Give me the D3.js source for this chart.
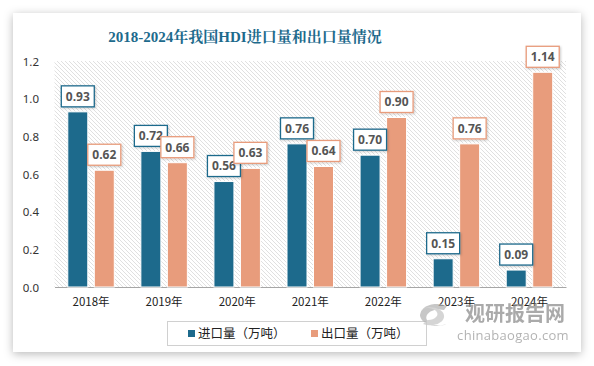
<!DOCTYPE html>
<html><head><meta charset="utf-8">
<script src="https://cdn.jsdelivr.net/npm/d3@7"></script>
<style>
html,body{margin:0;padding:0;background:#fff;}
svg{display:block;}
</style></head>
<body><svg id="chart" width="594" height="366"></svg>
<script>
const categories = ["2018年","2019年","2020年","2021年","2022年","2023年","2024年"];
const importVals = [0.93,0.72,0.56,0.76,0.70,0.15,0.09];
const exportVals = [0.62,0.66,0.63,0.64,0.90,0.76,1.14];
const seriesNames = ["进口量（万吨）","出口量（万吨）"];
const colors = ["#1d6a8c","#e89c7c"];
const yTicks = [0,0.2,0.4,0.6,0.8,1.0,1.2];
const title = "2018-2024年我国HDI进口量和出口量情况";

const svg = d3.select("#chart");
const defs = svg.append("defs");
const sh = defs.append("filter").attr("id","cardShadow").attr("x","-10%").attr("y","-10%").attr("width","120%").attr("height","125%");
sh.append("feDropShadow").attr("dx",0).attr("dy",2).attr("stdDeviation",5).attr("flood-color","#000").attr("flood-opacity",0.28);
const lsh = defs.append("filter").attr("id","lblShadow").attr("x","-20%").attr("y","-20%").attr("width","150%").attr("height","160%");
lsh.append("feDropShadow").attr("dx",1).attr("dy",1).attr("stdDeviation",1.2).attr("flood-color","#000").attr("flood-opacity",0.2);
const pat = defs.append("pattern").attr("id","hatch").attr("patternUnits","userSpaceOnUse").attr("width",4).attr("height",4);
pat.append("rect").attr("width",4).attr("height",4).attr("fill","#fff");
pat.append("path").attr("d","M-1,-1 L5,5 M-1,3 L1,5 M3,-1 L5,1").attr("stroke","#e0e0e0").attr("stroke-width",1);

// card
svg.append("rect").attr("x",13).attr("y",13).attr("width",568).attr("height",339).attr("fill","#fff").attr("filter","url(#cardShadow)");

const margin = {left:54.5, right:566, top:61, bottom:287};
const x = d3.scaleBand().domain(categories).range([margin.left, margin.right]).paddingInner(0).paddingOuter(0);
const y = d3.scaleLinear().domain([0,1.2]).range([margin.bottom, margin.top]);

// plot background hatch
svg.append("rect").attr("x",margin.left).attr("y",margin.top).attr("width",margin.right-margin.left).attr("height",margin.bottom-margin.top).attr("fill","url(#hatch)");

// title
svg.append("text").attr("x",245).attr("y",42).attr("text-anchor","middle")
  .attr("font-family","'Liberation Serif','Noto Serif CJK SC','Noto Sans CJK SC',serif").attr("font-weight","bold")
  .attr("font-size",15).attr("fill","#1d6a8c").text(title);

// y axis
const yAxis = d3.axisLeft(y).tickValues(yTicks).tickFormat(d3.format(".1f")).tickSize(0).tickPadding(0);
const ya = svg.append("g").attr("transform",`translate(39,0)`).call(yAxis);
ya.select(".domain").remove();
ya.selectAll("text").attr("font-family","'Noto Sans','DejaVu Sans',sans-serif").attr("font-size",11.5).attr("fill","#333").attr("dy","0.35em");

// x axis
const xAxis = d3.axisBottom(x).tickSize(0).tickPadding(0);
const xa = svg.append("g").attr("transform",`translate(0,${margin.bottom})`).call(xAxis);
xa.select(".domain").attr("stroke","#a6a6a6").attr("stroke-width",1);
xa.selectAll("text").attr("font-family","'Noto Sans CJK SC','Noto Sans',sans-serif").attr("font-size",11.5).attr("fill","#222").attr("y",11).attr("dy","0.71em");

const barW = 20, gap = 6.5;
const series = [importVals, exportVals];
series.forEach((vals, si) => {
  const off = si === 0 ? -(gap/2 + barW) : gap/2;
  const g = svg.append("g");
  g.selectAll("rect").data(vals).join("rect")
    .attr("x",(d,i)=> x(categories[i]) + x.bandwidth()/2 + off)
    .attr("y",d=>y(d)).attr("width",barW).attr("height",d=>y(0)-y(d))
    .attr("fill",colors[si]).attr("stroke","#fff").attr("stroke-width",1);
});
series.forEach((vals, si) => {
  const off = si === 0 ? -(gap/2 + barW) : gap/2;
  const g = svg.append("g");
  vals.forEach((d,i)=>{
    const cx = x(categories[i]) + x.bandwidth()/2 + off + barW/2;
    const bw = 33, bh = 21;
    const top = y(d) - 5 - bh;
    g.append("rect").attr("x",cx-bw/2).attr("y",top).attr("width",bw).attr("height",bh)
      .attr("fill","#fff").attr("stroke",colors[si]).attr("stroke-width",1.3).attr("filter","url(#lblShadow)");
    g.append("text").attr("x",cx).attr("y",top+bh/2).attr("dy","0.36em").attr("text-anchor","middle")
      .attr("font-family","'Open Sans','Noto Sans',sans-serif").attr("font-weight","bold").attr("font-size",12)
      .attr("fill","#555").text(d3.format(".2f")(d));
  });
});

// legend
const lg = svg.append("g");
lg.append("rect").attr("x",167.5).attr("y",321.5).attr("width",259).attr("height",24).attr("fill","#fff").attr("stroke","#d0d0d0").attr("stroke-width",1);
const legX = [188, 311];
seriesNames.forEach((n,i)=>{
  lg.append("rect").attr("x",legX[i]).attr("y",330).attr("width",7).attr("height",7).attr("fill",colors[i]);
  lg.append("text").attr("x",legX[i]+10).attr("y",333.5).attr("dy","0.36em")
    .attr("font-family","'Noto Sans CJK SC',sans-serif").attr("font-size",12.5).attr("fill","#222").text(n);
});

// watermark
const wm = svg.append("g").attr("opacity",0.75);
wm.append("path").attr("d","M447,306 A17,11 0 1 0 450,322 A13,8 0 1 1 444,310 Z").attr("fill","#b5b5b5");
wm.append("path").attr("d","M423,324 A14,9 0 1 0 420,310 A10,6 0 1 1 428,320 Z").attr("fill","#c8c8c8");
wm.append("text").attr("x",515).attr("y",321).attr("text-anchor","middle")
  .attr("font-family","'Noto Sans CJK SC',sans-serif").attr("font-weight","bold").attr("font-size",20).attr("fill","#8e8e8e").text("观研报告网");
wm.append("text").attr("x",513).attr("y",340).attr("text-anchor","middle")
  .attr("font-family","'Open Sans','Noto Sans',sans-serif").attr("font-size",13).attr("letter-spacing",0.3).attr("fill","#9a9a9a").text("chinabaogao.com");
</script></body></html>
